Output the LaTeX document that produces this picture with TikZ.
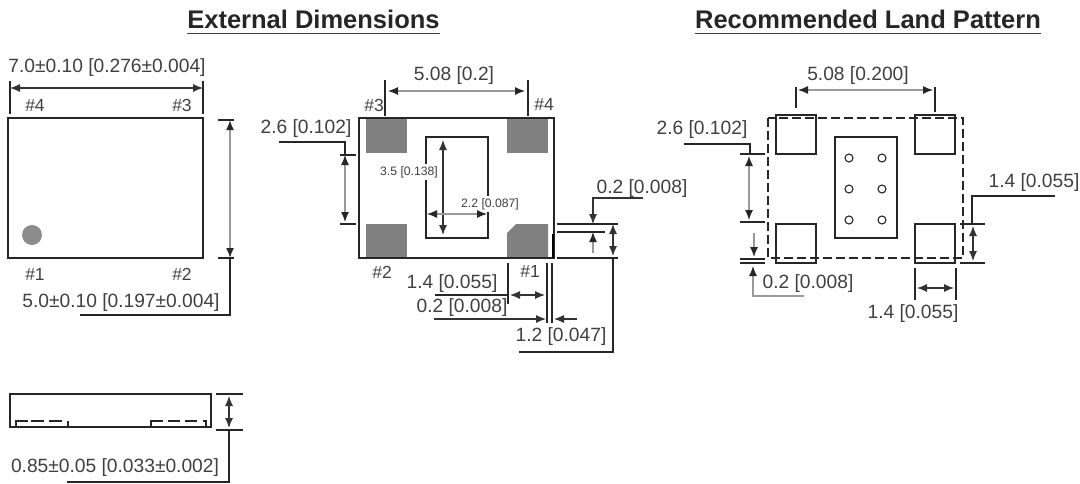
\documentclass[tikz,border=0pt]{standalone}
\usepackage{fontspec}
\setmainfont{Liberation Sans}
\usetikzlibrary{arrows.meta}

\tikzset{
    outline/.style={draw=black!85, line width=1.2pt},
    guide/.style={draw=black!85, line width=1.1pt},
    dim/.style={draw=black!80, line width=1.1pt, >={Latex[length=10pt,width=8pt]}},
    palespan/.style={dim, draw=black!40, line width=1.7pt, >={Latex[length=10pt,width=8pt,black!85]}},
    dimtext/.style={text=black!75, inner sep=0pt, yshift=-2pt, font=\fontsize{19.2}{21}\selectfont},
    smalltext/.style={text=black!75, inner xsep=0pt, inner ysep=2pt, fill=white, font=\fontsize{12.2}{13}\selectfont},
    pinmark/.style={text=black!75, inner sep=0pt, font=\fontsize{17.5}{19}\selectfont},
    heading/.style={text=black!85, inner sep=0pt, font=\bfseries\fontsize{25.5}{27}\selectfont},
    headrule/.style={draw=black!75, line width=1.6pt},
}

\begin{document}
\begin{tikzpicture}[x=1pt, y=-1pt]
    \useasboundingbox (0,0) rectangle (1080,483);

    % Add the headings
    \node[heading] (head_ext) at (313.5,19) {External Dimensions};
    \node[heading] (head_land) at (868,19) {Recommended Land Pattern};
    \draw[headrule] ([yshift=-5pt]head_ext.south west) -- ([yshift=-5pt]head_ext.south east);
    \draw[headrule] ([yshift=-5pt]head_land.south west) -- ([yshift=-5pt]head_land.south east);

    % Top view of the package
    \draw[outline] (8,118) rectangle (203,258);
    \fill[black!45] (32,235) circle (10);
    \node[pinmark] (top_4) at (35,105) {\#4};
    \node[pinmark] (top_3) at (182,105) {\#3};
    \node[pinmark] (top_1) at (35,274) {\#1};
    \node[pinmark] (top_2) at (182,274) {\#2};

    \draw[guide] (10,81) -- (10,114) (203,81) -- (203,114);
    \draw[dim, <->] (10,88) -- (203,88);
    \node[dimtext] (top_w) at (107,66) {7.0±0.10 [0.276±0.004]};

    \draw[guide] (218,120) -- (234,120) (218,258) -- (234,258);
    \draw[palespan, <->] (230,120) -- (230,258);
    \draw[guide] (230,258) -- (230,315) -- (80,315);
    \node[dimtext] (top_h) at (121,301) {5.0±0.10 [0.197±0.004]};

    % Side view of the package
    \draw[outline] (10,394) rectangle (211,427);
    \draw[guide] (16,427) -- (16,421) -- (28,421);
    \draw[guide, dash pattern=on 13pt off 5pt] (31,421) -- (64,421);
    \draw[guide] (68,421) -- (68,427);
    \draw[guide] (151,427) -- (151,421) -- (163,421);
    \draw[guide, dash pattern=on 12pt off 5pt] (168,421) -- (198,421);
    \draw[guide] (203,421) -- (206,421) -- (206,427);

    \draw[guide] (216,394) -- (243,394) (216,430) -- (243,430);
    \draw[dim, <->] (229,396) -- (229,428);
    \draw[guide] (229,430) -- (229,482) -- (67,482);
    \node[dimtext] (side_h) at (115,466) {0.85±0.05 [0.033±0.002]};

    % Bottom view of the package
    \foreach \px/\py in {366/119, 507/119, 366/224}
        \fill[black!50] (\px,\py) rectangle ++(41,34);
    \fill[black!50] (516,224) -- (548,224) -- (548,257) -- (507,257) -- (507,233) -- cycle;
    \draw[outline] (359,118) rectangle (554,258);
    \draw[line width=2.2pt] (553,234) -- (553,258);
    \draw[outline] (426,137) rectangle (488,238);
    \node[pinmark] (bot_3) at (374,105) {\#3};
    \node[pinmark] (bot_4) at (544,104) {\#4};
    \node[pinmark] (bot_2) at (382,272) {\#2};
    \node[pinmark] (bot_1) at (530,271) {\#1};

    \draw[guide] (385,80) -- (385,116) (528,80) -- (528,116);
    \draw[palespan, line width=1.2pt, <->] (388,91) -- (525,91);
    \node[dimtext] (bot_pitch) at (454,74) {5.08 [0.2]};

    \draw[guide] (279,142) -- (345,142) -- (345,155);
    \draw[guide] (340,155) -- (356,155) (340,224) -- (356,224);
    \draw[palespan, line width=1.2pt, <->] (345,155) -- (345,222);
    \node[dimtext] (bot_gap) at (306,127) {2.6 [0.102]};

    \node[smalltext] (core_h) at (409,172) {3.5 [0.138]};
    \node[smalltext] (core_w) at (490,204) {2.2 [0.087]};
    \draw[dim, <->] (443,140) -- (443,235);
    \draw[palespan, line width=1.2pt, <->] (427,214) -- (487,214);

    \draw[guide] (557,224) -- (618,224) (557,232) -- (605,232) (557,258) -- (618,258);
    \draw[dim, ->] (643,198) -- (593,198) -- (593,224);
    \draw[palespan, line width=1.2pt, ->] (593,253) -- (593,232);
    \draw[dim, <->] (613,224) -- (613,256);
    \draw[guide] (613,258) -- (613,352) -- (519,352);
    \node[dimtext] (bot_edge) at (642,187) {0.2 [0.008]};
    \node[dimtext] (bot_pad) at (561,335) {1.2 [0.047]};

    \draw[guide] (508,263) -- (508,304) (547,263) -- (547,323) (552,263) -- (552,323);
    \draw[guide] (435,295) -- (508,295);
    \draw[dim, <->] (510,295) -- (545,295);
    \draw[dim, ->] (434,319) -- (546,319);
    \draw[dim, ->] (577,319) -- (554,319);
    \node[dimtext] (bot_len) at (452,282) {1.4 [0.055]};
    \node[dimtext] (bot_off) at (462,306) {0.2 [0.008]};

    % Recommended land pattern
    \draw[outline, dash pattern=on 9pt off 4pt] (768,118) rectangle (963,258);
    \foreach \px/\py in {776/115, 915/115, 776/224, 915/224}
        \draw[outline] (\px,\py) rectangle ++(40,39);
    \draw[outline] (835,137) rectangle (897,238);
    \foreach \py in {158,189,220}
        \foreach \px in {849,882}
            \draw[guide] (\px,\py) circle (4);

    \draw[guide] (796,87) -- (796,108) (935,87) -- (935,112);
    \draw[palespan, line width=1.2pt, <->] (798,90) -- (933,90);
    \node[dimtext] (land_pitch) at (858,74) {5.08 [0.200]};

    \draw[guide] (684,144) -- (750,144) -- (750,154);
    \draw[guide] (740,154) -- (765,154) (740,222) -- (765,222);
    \draw[palespan, line width=1.2pt, <->] (749,156) -- (749,220);
    \node[dimtext] (land_gap) at (702,128) {2.6 [0.102]};

    \draw[guide] (740,259) -- (765,259) (740,263) -- (765,263);
    \draw[palespan, line width=1.2pt, ->] (754,233) -- (754,257);
    \draw[palespan, line width=1.2pt, ->] (804,296) -- (753,296) -- (753,266);
    \node[dimtext] (land_edge) at (808,282) {0.2 [0.008]};

    \draw[guide] (960,224) -- (985,224) (960,263) -- (985,263);
    \draw[dim, <->] (973,226) -- (973,261);
    \draw[guide] (972,224) -- (972,196) -- (1055,196);
    \node[dimtext] (land_h) at (1034,181) {1.4 [0.055]};

    \draw[guide] (915,268) -- (915,300) (956,268) -- (956,300);
    \draw[dim, <->] (917,288) -- (954,288);
    \node[dimtext] (land_w) at (913,312) {1.4 [0.055]};
\end{tikzpicture}
\end{document}
